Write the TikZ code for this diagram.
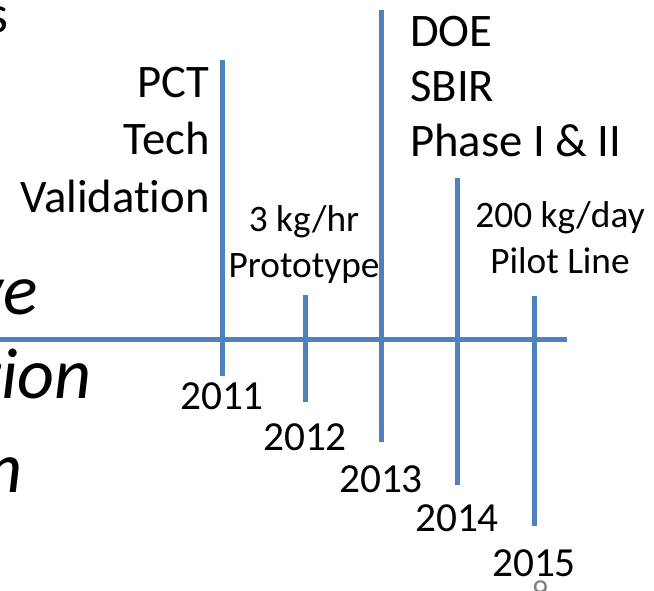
\documentclass[tikz,border=0pt]{standalone}
\usepackage{fontspec}
\setmainfont[Ligatures=NoCommon]{Carlito}
\definecolor{tlblue}{HTML}{4F81BD}

\begin{document}
\begin{tikzpicture}[x=0.75pt,y=-0.75pt,
    bar/.style={draw=tlblue, line width=3.75pt},
    big/.style={inner sep=0pt, font=\fontsize{35}{42}\selectfont},
    small/.style={inner sep=0pt, font=\fontsize{28}{34}\selectfont},
    year/.style={inner sep=0pt, font=\fontsize{31}{37}\selectfont},
    huge/.style={inner sep=0pt, font=\fontsize{54}{65}\selectfont\itshape}]
  \useasboundingbox (0,0) rectangle (654,591);

  % Draw the axis
  \coordinate (axisL) at (0,340);
  \coordinate (axisR) at (567,340);
  \draw[bar] (axisL) -- (axisR);

  % Draw the ticks and years
  \foreach \x/\up/\lo/\yr/\yb in {222/60/376/2011/410, 305/295/402/2012/451,
      381/10/442/2013/493, 457/178/485/2014/532, 534/296/526/2015/577} {
    \coordinate (top\yr) at (\x,\up);
    \coordinate (bot\yr) at (\x,\lo);
    \draw[bar] (top\yr) -- (bot\yr);
    \node[year, anchor=base] (y\yr) at (\x,\yb) {\yr};
  }

  % Milestone labels
  \node[big, anchor=base east] (pct) at (210,98) {PCT};
  \node[big, anchor=base east] (tech) at (210,155) {Tech};
  \node[big, anchor=base east] (valid) at (210,213) {Validation};

  \node[big, anchor=base west] (doe) at (410,47) {DOE};
  \node[big, anchor=base west] (sbir) at (410,102) {SBIR};
  \node[big, anchor=base west] (phase) at (410,157) {Phase I \& II};

  \node[small, anchor=base] (kghr) at (304,232) {3 kg/hr};
  \node[small, anchor=base] (proto) at (304,278) {Prototype};
  \node[small, anchor=base] (kgday) at (560,228) {200 kg/day};
  \node[small, anchor=base] (pilot) at (560,274) {Pilot Line};

  % Cut-off slide text on the left
  \node[inner sep=0pt, font=\fontsize{40}{48}\selectfont, anchor=base east] (s) at (9,33) {s};
  \node[huge, anchor=base east] (ve) at (38,315) {ve};
  \node[huge, anchor=base east] (tion) at (92,399) {tion};
  \node[huge, anchor=base east] (n) at (23,493) {n};

  % Page number
  \node[inner sep=0pt, text=gray, font=\fontsize{24}{29}\selectfont, anchor=north] (page) at (540,580) {9};
\end{tikzpicture}
\end{document}
